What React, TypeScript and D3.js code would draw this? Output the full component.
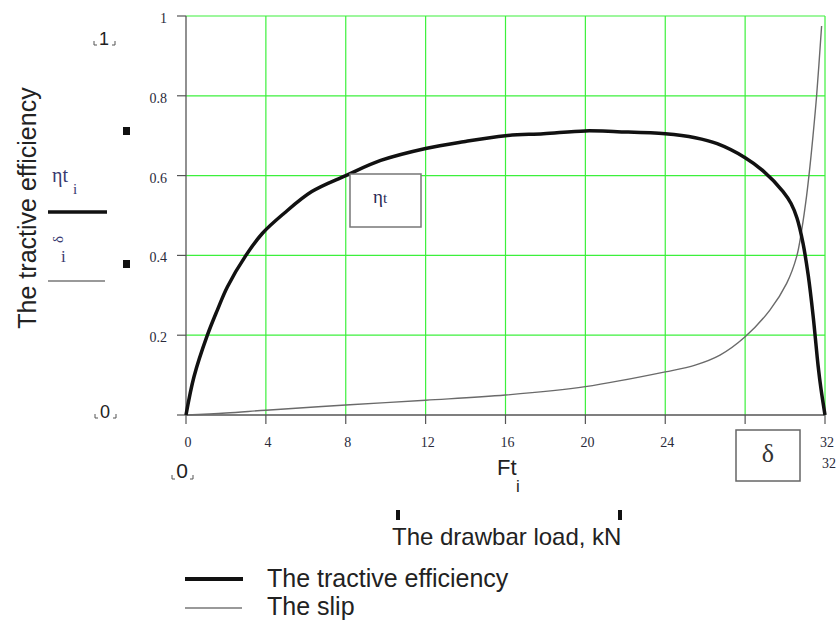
import React from "react";
import * as d3 from "d3";

// Drawbar load Ft (kN) and tractive efficiency
const etaLoad = [0, 0.4, 1.07, 1.57, 2.07, 3.0, 3.82, 4.9, 6.3, 8, 9.75, 12, 13.9, 16, 17.9, 20, 21.6, 24, 25.5, 26.6, 28, 28.9, 29.9, 30.3, 30.6, 30.9, 31.16, 31.41, 31.66, 31.8, 32];
const etaValues = [0, 0.096, 0.2, 0.263, 0.321, 0.4, 0.455, 0.505, 0.56, 0.6, 0.638, 0.668, 0.685, 0.7, 0.705, 0.712, 0.71, 0.705, 0.695, 0.68, 0.645, 0.612, 0.56, 0.53, 0.493, 0.43, 0.35, 0.246, 0.121, 0.065, 0];

// Drawbar load Ft (kN) and slip
const slipLoad = [0, 2, 4, 8, 12, 16, 20, 24, 25.5, 26.74, 28.0, 29.24, 30.08, 30.58, 30.83, 31.08, 31.25, 31.4, 31.58, 31.83];
const slipValues = [0, 0.005, 0.012, 0.025, 0.037, 0.05, 0.071, 0.108, 0.125, 0.15, 0.196, 0.263, 0.33, 0.397, 0.463, 0.55, 0.625, 0.7, 0.8, 0.975];

const xTicks = [0, 4, 8, 12, 16, 20, 24, 28, 32];
const xTickLabels = ["0", "4", "8", "12", "16", "20", "24", "28", "32"];
const yTicks = [0, 0.2, 0.4, 0.6, 0.8, 1];
const yTickLabels = ["", "0.2", "0.4", "0.6", "0.8", "1"];

const legendLabels = ["The tractive efficiency", "The slip"];

const GREEN = "#3cf03c";
const AXIS = "#555";
const SANS = "'Liberation Sans', Arial, sans-serif";
const SERIF = "'Liberation Serif', 'Times New Roman', serif";
const TEXT = "#2a2a3a";

function Brackets({ x1, x2, y }: { x1: number; x2: number; y: number }) {
  return (
    <g stroke="#555" strokeWidth={1} fill="none">
      <path d={`M${x1 + 3},${y} L${x1},${y} L${x1},${y - 4}`} />
      <path d={`M${x2 - 3},${y} L${x2},${y} L${x2},${y - 4}`} />
    </g>
  );
}

export default function App() {
  const x = d3.scaleLinear().domain([0, 32]).range([186, 825]);
  const y = d3.scaleLinear().domain([0, 1]).range([415, 16]);

  const etaLine = d3
    .line<number>()
    .x((_, i) => x(etaLoad[i]))
    .y((d) => y(d))
    .curve(d3.curveCatmullRom.alpha(0.5));
  const slipLine = d3
    .line<number>()
    .x((_, i) => x(slipLoad[i]))
    .y((d) => y(d))
    .curve(d3.curveCatmullRom.alpha(0.5));

  return (
    <svg
      width={838}
      height={620}
      style={{ position: "absolute", left: 0, top: 0, background: "#fff" }}
    >
      <rect x={0} y={0} width={838} height={620} fill="#fff" />
      {/* grid */}
      {xTicks.slice(1).map((t) => (
        <line key={"gx" + t} x1={x(t)} x2={x(t)} y1={y(1)} y2={y(0)} stroke={GREEN} strokeWidth={1.2} />
      ))}
      {yTicks.slice(1).map((t) => (
        <line key={"gy" + t} x1={x(0)} x2={x(32)} y1={y(t)} y2={y(t)} stroke={GREEN} strokeWidth={1.2} />
      ))}
      {/* axes */}
      <line x1={x(0)} x2={x(0)} y1={y(1)} y2={y(0)} stroke={AXIS} strokeWidth={1.3} />
      <line x1={x(0)} x2={x(32)} y1={y(0)} y2={y(0)} stroke={AXIS} strokeWidth={1.3} />
      {yTicks.map((t) => (
        <line key={"ty" + t} x1={x(0) - 9} x2={x(0)} y1={y(t)} y2={y(t)} stroke={AXIS} strokeWidth={1.2} />
      ))}
      {xTicks.map((t) => (
        <line key={"tx" + t} x1={x(t)} x2={x(t)} y1={y(0)} y2={y(0) + 9} stroke={AXIS} strokeWidth={1.2} />
      ))}
      {yTicks.map((t, i) =>
        yTickLabels[i] ? (
          <text key={"ly" + t} x={x(0) - 19} y={y(t) + 7} textAnchor="end" fontFamily={SERIF} fontSize={14} fill={TEXT}>
            {yTickLabels[i]}
          </text>
        ) : null
      )}
      {xTicks.map((t, i) => (
        <text key={"lx" + t} x={x(t) + 2} y={y(0) + 32} textAnchor="middle" fontFamily={SERIF} fontSize={14} fill={TEXT}>
          {xTickLabels[i]}
        </text>
      ))}
      <text x={822} y={468} fontFamily={SERIF} fontSize={14} fill={TEXT}>32</text>

      {/* curves */}
      <path d={slipLine(slipValues) || ""} fill="none" stroke="#6a6a6a" strokeWidth={1.4} />
      <path d={etaLine(etaValues) || ""} fill="none" stroke="#111" strokeWidth={3.5} strokeLinejoin="round" />

      {/* annotation boxes */}
      <rect x={350} y={174} width={71} height={53} fill="#fff" stroke="#777" strokeWidth={1.5} />
      <text x={373} y={203} fontFamily={SERIF} fontSize={19} fill="#2a2a55">
        η<tspan fontSize={15}>t</tspan>
      </text>
      <rect x={736} y={430} width={64} height={51} fill="#fff" stroke="#666" strokeWidth={1.5} />
      <text x={768} y={462} textAnchor="middle" fontFamily={SERIF} fontSize={26} fill="#333">δ</text>

      {/* y axis labels and Mathcad placeholders */}
      <text
        transform="translate(36,208) rotate(-90)"
        textAnchor="middle"
        fontFamily={SANS}
        fontSize={25}
        fill="#222"
      >
        The tractive efficiency
      </text>
      <text x={52} y={182} fontFamily={SERIF} fontSize={20} fill="#3a3a70">
        ηt
      </text>
      <text x={73} y={194} fontFamily={SERIF} fontSize={15} fill="#3a3a70">i</text>
      <line x1={48} x2={107} y1={212} y2={212} stroke="#111" strokeWidth={3.5} />
      <text transform="translate(63,243) rotate(-90)" fontFamily={SERIF} fontSize={15} fill="#3a3a70">δ</text>
      <text x={61} y={262} fontFamily={SERIF} fontSize={17} fill="#3a3a70">i</text>
      <line x1={48} x2={105} y1={281} y2={281} stroke="#777" strokeWidth={1.5} />
      <rect x={123} y={127} width={7} height={8} fill="#111" />
      <rect x={123} y={260} width={7} height={8} fill="#111" />

      <text x={104} y={45} textAnchor="middle" fontFamily={SANS} fontSize={18} fill="#222">1</text>
      <Brackets x1={94} x2={115} y={45} />
      <text x={105} y={418} textAnchor="middle" fontFamily={SANS} fontSize={18} fill="#222">0</text>
      <Brackets x1={95} x2={116} y={418} />

      {/* x axis labels */}
      <text x={182} y={478} textAnchor="middle" fontFamily={SANS} fontSize={21} fill="#222">0</text>
      <Brackets x1={172} x2={193} y={479} />
      <text x={497} y={475} fontFamily={SANS} fontSize={22} fill="#222">Ft</text>
      <text x={516} y={492} fontFamily={SANS} fontSize={17} fill="#222">i</text>
      <rect x={396} y={510} width={4} height={10} fill="#111" />
      <rect x={618} y={510} width={4} height={10} fill="#111" />
      <text x={392} y={545} fontFamily={SANS} fontSize={24} fill="#222">The drawbar load, kN</text>

      {/* legend */}
      <line x1={185} x2={243} y1={579} y2={579} stroke="#111" strokeWidth={4} />
      <text x={267} y={587} fontFamily={SANS} fontSize={25} fill="#222">{legendLabels[0]}</text>
      <line x1={185} x2={242} y1={608} y2={608} stroke="#777" strokeWidth={1.5} />
      <text x={267} y={615} fontFamily={SANS} fontSize={25} fill="#222">{legendLabels[1]}</text>
    </svg>
  );
}
